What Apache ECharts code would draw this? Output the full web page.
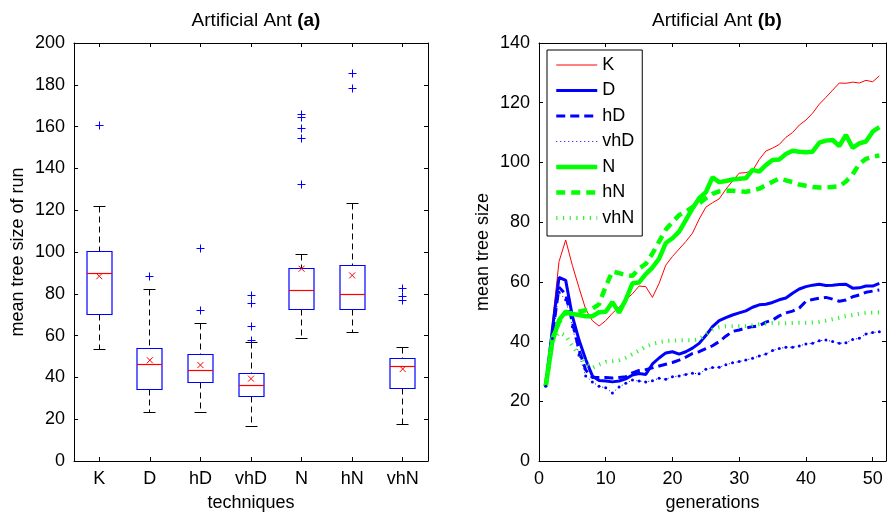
<!DOCTYPE html>
<html>
<head>
<meta charset="utf-8">
<script src="https://cdn.jsdelivr.net/npm/echarts@6/dist/echarts.min.js"></script>
<style>
html,body{margin:0;padding:0;background:#fff;}
#chart{width:889px;height:519px;}
</style>
</head>
<body>
<div id="chart"></div>
<script>
// ---------- Panel (a): box plot ----------
const categories = ['K', 'D', 'hD', 'vhD', 'N', 'hN', 'vhN'];
const whiskerLow  = [53.5, 23.1, 23.0, 16.3, 58.4, 61.7, 17.7];
const q1          = [70.0, 34.1, 37.5, 30.9, 72.6, 72.7, 34.9];
const median      = [89.8, 46.3, 43.1, 36.0, 81.7, 79.6, 45.1];
const q3          = [100.3, 54.0, 50.9, 41.8, 91.9, 93.6, 49.0];
const whiskerHigh = [122.0, 82.0, 65.9, 56.9, 98.9, 123.4, 54.1];
const means       = [88.4, 48.2, 45.9, 39.4, 92.0, 88.8, 44.0];
const outliers = [
  [160.6],
  [88.2],
  [101.6, 72.1],
  [79.1, 75.3, 64.4, 57.7],
  [165.9, 164.3, 159.3, 154.5, 132.5],
  [185.6, 178.0],
  [82.3, 78.9, 76.7]
];
const yTicksA = [0, 20, 40, 60, 80, 100, 120, 140, 160, 180, 200];

// ---------- Panel (b): line chart ----------
const generations = [1,2,3,4,5,6,7,8,9,10,11,12,13,14,15,16,17,18,19,20,21,22,23,24,25,26,27,28,29,30,31,32,33,34,35,36,37,38,39,40,41,42,43,44,45,46,47,48,49,50,51];
const sK   = [25,46,66.8,74,65.5,58,50.8,47,45.2,47,49.5,51.5,54,56,58.6,58.4,54.8,59.5,65.6,68.5,71,73.5,76.3,81,85,86.5,87.8,91,93.8,96.4,96.6,97.2,101,103.8,104.8,106,108.4,110,112.5,114.2,116.5,119.5,121.8,124.2,126.6,126.5,126.9,126.6,127.5,127,129];
const sD   = [25,44,61.5,60.5,48.5,40.5,34,28.5,27,26.8,26.5,26.8,27.5,28.8,29.3,29,32.5,34.5,36.2,36.6,35.8,36.6,37.8,39.4,42,45,47,48,48.9,49.6,50.3,51.5,52.3,52.5,53.1,54,54.6,56.2,57.6,58.4,58.9,59.2,58.8,58.9,59.1,59.2,57.9,58,58.6,58.6,59.5];
const shD  = [25,42,58.2,55.8,46.5,37.2,30.5,28,28,28,27.8,28,28.2,29.5,30.3,30.6,31.2,31.8,32.4,33,33.8,34.8,36,36.6,37.6,38.6,40,41.8,43.4,43.9,44.5,45,45.3,46.5,47.2,48.6,49.6,50.2,51.2,53.5,54.1,54.5,54.8,54.2,53.5,53.9,55,55.6,56.5,56.9,57.3];
const svhD = [25,41,56.5,54,45,35.5,28.5,26.5,25,24.5,22.8,24.8,26,27.1,26.8,26.5,26.9,27.7,27.4,28.2,28.5,29,29.4,29.2,30.7,31.3,31.4,32.2,32.9,33.3,33.8,34.4,35.2,35.8,37,37.7,38.1,38.1,38.5,39.2,39.4,40.3,40.5,40,39.4,39.6,40.7,41.1,42.5,43,43.3];
const sN   = [25,40,47.2,50,49.2,48.9,48.5,48.5,49.8,50,53.2,49.7,54,59.5,59.8,62.6,64.8,67.8,73,74.6,76.8,80.7,84.6,88,90,95,93.4,93.8,94.3,94.5,94.7,97.5,96.9,99.1,100.8,101,102.8,103.9,103.6,103.4,103.6,106.6,107.3,107.5,105.5,109.2,104.9,106.4,107,110.3,111.8];
const shN  = [25,41,46.5,49.5,49.5,50,50.5,51,52.5,58.5,63.5,62.9,62.3,62,64.5,66,69.5,73.5,77.5,80,82.4,83.5,85,86.3,88,89.5,90.3,90.5,90.5,90.3,90.2,90.5,91.2,92.4,93.5,94.6,94,93.4,92.6,92.2,91.8,91.6,91.6,91.8,92,93.6,96,99.5,101.2,101.9,102.3];
const svhN = [25,40,43,42,38.5,35.5,32.5,31.2,32.3,33.2,33.4,33.8,34.6,35.8,37,38.3,39.2,39.8,40.2,40.3,40.4,40.5,40.4,40.8,42.5,44,44.8,45.1,45.1,45.2,45.2,45.5,45.8,46,46.2,46.1,46.1,46.2,46.3,46.3,46.4,46.6,47,47.5,48,48.6,48.9,49.3,49.6,49.7,49.8];
const seriesNames = ['K', 'D', 'hD', 'vhD', 'N', 'hN', 'vhN'];
const xTicksB = [0, 10, 20, 30, 40, 50];
const yTicksB = [0, 20, 40, 60, 80, 100, 120, 140];

// ---------- styling ----------
const FONT = "'Liberation Sans', Arial, Helvetica, sans-serif";
const RED = '#ff0000', BLUE = '#0000ff', GREEN = '#00ff00';
const crisp = v => Math.round(v - 0.5) + 0.5;

function pairs(ys) { return generations.map((g, i) => [g, ys[i]]); }

function axisCommon(extra) {
  return Object.assign({
    axisLine: { show: true, onZero: false, lineStyle: { color: '#000', width: 1 } },
    axisTick: { show: true, inside: true, length: 4, lineStyle: { color: '#000' } },
    axisLabel: { color: '#000', fontSize: 18, fontFamily: FONT, margin: 9 },
    splitLine: { show: false },
    nameTextStyle: { color: '#000', fontSize: 18, fontFamily: FONT }
  }, extra);
}

const boxData = categories.map((c, i) => [i, whiskerLow[i], q1[i], median[i], q3[i], whiskerHigh[i]]);
const meanData = categories.map((c, i) => [i, means[i]]);
const outlierData = [];
outliers.forEach((arr, i) => arr.forEach(v => outlierData.push([i, v])));

const option = {
  animation: false,
  backgroundColor: '#fff',
  textStyle: { fontFamily: FONT },
  title: [
    {
      text: 'Artificial Ant {b|(a)}', left: 251, top: 6, textAlign: 'center',
      textStyle: { fontSize: 19, fontWeight: 'normal', color: '#000', fontFamily: FONT,
        rich: { b: { fontSize: 19, fontWeight: 'bold', color: '#000', fontFamily: FONT } } }
    },
    {
      text: 'Artificial Ant {b|(b)}', left: 712, top: 6, textAlign: 'center',
      textStyle: { fontSize: 19, fontWeight: 'normal', color: '#000', fontFamily: FONT,
        rich: { b: { fontSize: 19, fontWeight: 'bold', color: '#000', fontFamily: FONT } } }
    }
  ],
  grid: [
    { left: 74, top: 43, width: 354, height: 418 },
    { left: 539, top: 43, width: 347, height: 418 }
  ],
  legend: {
    orient: 'vertical', left: 547, top: 50,
    padding: [6, 8, 9, 7],
    borderColor: '#000', borderWidth: 1, backgroundColor: '#fff',
    itemWidth: 41, itemHeight: 18, itemGap: 7.5,
    itemStyle: { opacity: 0 },
    lineStyle: { width: 'inherit', type: 'inherit' },
    textStyle: { fontSize: 18, fontFamily: FONT, color: '#000', lineHeight: 18 },
    data: seriesNames
  },
  xAxis: [
    axisCommon({ type: 'category', gridIndex: 0, data: categories, position: 'bottom',
      boundaryGap: true, name: 'techniques', nameLocation: 'middle', nameGap: 33,
      axisTick: { show: true, inside: true, length: 4, alignWithLabel: true, lineStyle: { color: '#000' } } }),
    axisCommon({ type: 'category', gridIndex: 0, data: categories, position: 'top',
      boundaryGap: true, axisLabel: { show: false },
      axisTick: { show: true, inside: true, length: 4, alignWithLabel: true, lineStyle: { color: '#000' } } }),
    axisCommon({ type: 'value', gridIndex: 1, min: 0, max: 52, interval: 10, position: 'bottom',
      name: 'generations', nameLocation: 'middle', nameGap: 33,
      axisLabel: { color: '#000', fontSize: 18, fontFamily: FONT, margin: 9, showMaxLabel: false,
        formatter: v => (xTicksB.indexOf(v) >= 0 ? String(v) : '') } }),
    axisCommon({ type: 'value', gridIndex: 1, min: 0, max: 52, interval: 10, position: 'top',
      axisLabel: { show: false } })
  ],
  yAxis: [
    axisCommon({ type: 'value', gridIndex: 0, min: yTicksA[0], max: yTicksA[yTicksA.length - 1], interval: 20,
      position: 'left', name: 'mean tree size of run', nameLocation: 'middle', nameGap: 47 }),
    axisCommon({ type: 'value', gridIndex: 0, min: yTicksA[0], max: yTicksA[yTicksA.length - 1], interval: 20,
      position: 'right', axisLabel: { show: false } }),
    axisCommon({ type: 'value', gridIndex: 1, min: yTicksB[0], max: yTicksB[yTicksB.length - 1], interval: 20,
      position: 'left', name: 'mean tree size', nameLocation: 'middle', nameGap: 47 }),
    axisCommon({ type: 'value', gridIndex: 1, min: yTicksB[0], max: yTicksB[yTicksB.length - 1], interval: 20,
      position: 'right', axisLabel: { show: false } })
  ],
  series: [
    {
      type: 'custom', name: 'box', xAxisIndex: 0, yAxisIndex: 0,
      data: boxData, encode: { x: 0, y: [1, 2, 3, 4, 5] },
      renderItem: function (params, api) {
        const i = api.value(0);
        const cx = crisp(api.coord([i, 0])[0]);
        const Y = k => crisp(api.coord([i, api.value(k)])[1]);
        const band = api.size([1, 0])[0];
        const bw = Math.round(band * 0.5);
        const cw = Math.round(band * 0.24);
        const yWL = Y(1), yQ1 = Y(2), yMed = Y(3), yQ3 = Y(4), yWH = Y(5);
        const black = { stroke: '#000', lineWidth: 1 };
        const dashed = { stroke: '#000', lineWidth: 1, lineDash: [6, 4] };
        return {
          type: 'group',
          children: [
            { type: 'line', shape: { x1: cx, y1: yWH, x2: cx, y2: yQ3 }, style: dashed },
            { type: 'line', shape: { x1: cx, y1: yQ1, x2: cx, y2: yWL }, style: dashed },
            { type: 'line', shape: { x1: cx - cw / 2, y1: yWH, x2: cx + cw / 2, y2: yWH }, style: black },
            { type: 'line', shape: { x1: cx - cw / 2, y1: yWL, x2: cx + cw / 2, y2: yWL }, style: black },
            { type: 'rect', shape: { x: cx - bw / 2, y: yQ3, width: bw, height: yQ1 - yQ3 },
              style: { fill: '#fff', stroke: BLUE, lineWidth: 1.2 } },
            { type: 'line', shape: { x1: cx - bw / 2, y1: yMed, x2: cx + bw / 2, y2: yMed },
              style: { stroke: RED, lineWidth: 1.2 } }
          ]
        };
      },
      z: 2
    },
    {
      type: 'custom', name: 'mean', xAxisIndex: 0, yAxisIndex: 0,
      data: meanData, encode: { x: 0, y: 1 },
      renderItem: function (params, api) {
        const p = api.coord([api.value(0), api.value(1)]);
        const s = 3;
        const st = { stroke: RED, lineWidth: 1 };
        return { type: 'group', children: [
          { type: 'line', shape: { x1: p[0] - s, y1: p[1] - s, x2: p[0] + s, y2: p[1] + s }, style: st },
          { type: 'line', shape: { x1: p[0] - s, y1: p[1] + s, x2: p[0] + s, y2: p[1] - s }, style: st }
        ] };
      },
      z: 3
    },
    {
      type: 'custom', name: 'outliers', xAxisIndex: 0, yAxisIndex: 0,
      data: outlierData, encode: { x: 0, y: 1 },
      renderItem: function (params, api) {
        const p = api.coord([api.value(0), api.value(1)]);
        const x = crisp(p[0]), y = crisp(p[1]);
        const s = 4;
        const st = { stroke: BLUE, lineWidth: 1 };
        return { type: 'group', children: [
          { type: 'line', shape: { x1: x - s, y1: y, x2: x + s, y2: y }, style: st },
          { type: 'line', shape: { x1: x, y1: y - s, x2: x, y2: y + s }, style: st }
        ] };
      },
      z: 3
    },
    { type: 'line', name: 'K', xAxisIndex: 2, yAxisIndex: 2, data: pairs(sK),
      showSymbol: false, symbol: 'none', color: RED, lineStyle: { color: RED, width: 1 } },
    { type: 'line', name: 'D', xAxisIndex: 2, yAxisIndex: 2, data: pairs(sD),
      showSymbol: false, symbol: 'none', color: BLUE, lineStyle: { color: BLUE, width: 3 } },
    { type: 'line', name: 'hD', xAxisIndex: 2, yAxisIndex: 2, data: pairs(shD),
      showSymbol: false, symbol: 'none', color: BLUE, lineStyle: { color: BLUE, width: 3, type: [9, 5] } },
    { type: 'line', name: 'vhD', xAxisIndex: 2, yAxisIndex: 2, data: pairs(svhD),
      symbol: 'circle', symbolSize: 3, showSymbol: true, color: BLUE,
      itemStyle: { color: BLUE }, lineStyle: { color: BLUE, width: 1, type: [1, 3] } },
    { type: 'line', name: 'N', xAxisIndex: 2, yAxisIndex: 2, data: pairs(sN),
      showSymbol: false, symbol: 'none', color: GREEN, lineStyle: { color: GREEN, width: 4.5 } },
    { type: 'line', name: 'hN', xAxisIndex: 2, yAxisIndex: 2, data: pairs(shN),
      showSymbol: false, symbol: 'none', color: GREEN, lineStyle: { color: GREEN, width: 4.5, type: [9, 6] } },
    { type: 'line', name: 'vhN', xAxisIndex: 2, yAxisIndex: 2, data: pairs(svhN),
      showSymbol: false, symbol: 'none', color: '#33ee33', lineStyle: { color: '#33ee33', width: 4, type: [1.2, 5.5] } }
  ]
};

const chart = echarts.init(document.getElementById('chart'), null, { renderer: 'canvas', width: 889, height: 519 });
chart.setOption(option);
</script>
</body>
</html>
